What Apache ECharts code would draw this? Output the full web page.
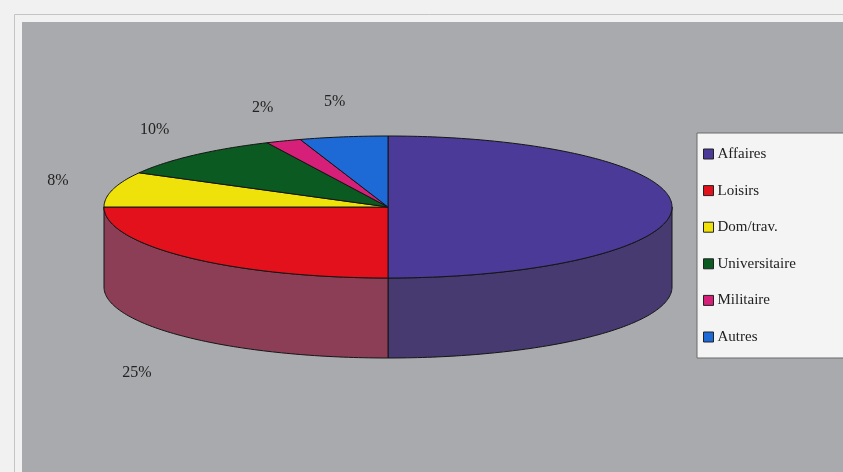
<!DOCTYPE html>
<html>
<head>
<meta charset="utf-8">
<script src="https://cdn.jsdelivr.net/npm/echarts@6/dist/echarts.min.js"></script>
<style>
html,body{margin:0;padding:0;background:#f1f1f1;}
#c{width:843px;height:472px;}
</style>
</head>
<body>
<div id="c"></div>
<script>
const categories = ['Affaires', 'Loisirs', 'Dom/trav.', 'Universitaire', 'Militaire', 'Autres'];
const shares = [50, 25, 8, 10, 2, 5];
const showLabel = [false, true, true, true, true, true];
const topColors = ['#4b3a97', '#e2111b', '#efe10a', '#0b5a22', '#d51f78', '#1d69d6'];
const sideColors = ['#463a70', '#8c3e56', '#9a9020', '#0a3d18', '#8a1a50', '#124a99'];

const CX = 388, CY = 207, RX = 284, RY = 71, DEPTH = 80;
const total = shares.reduce((a, b) => a + b, 0);
const starts = [];
let acc = 0;
shares.forEach(v => { starts.push(acc / total * 360); acc += v; });

function pt(deg, dy) {
  const r = deg * Math.PI / 180;
  return [CX + RX * Math.sin(r), CY - RY * Math.cos(r) + (dy || 0)];
}
function arc(a1, a2, dy) {
  const pts = [];
  const n = Math.max(2, Math.ceil(Math.abs(a2 - a1)));
  for (let i = 0; i <= n; i++) pts.push(pt(a1 + (a2 - a1) * i / n, dy));
  return pts;
}

function makeRender(idx) {
  return function (params, api) {
    const v = api.value(0);
    const a1 = starts[idx];
    const a2 = a1 + v / total * 360;
    const children = [];
    const s1 = Math.max(a1, 90), s2 = Math.min(a2, 270);
    if (s2 > s1) {
      const topArc = arc(s1, s2, 0);
      const botArc = arc(s2, s1, DEPTH);
      children.push({
        type: 'polygon',
        shape: { points: topArc.concat(botArc) },
        style: { fill: sideColors[idx], stroke: '#151515', lineWidth: 1 }
      });
    }
    children.push({
      type: 'polygon',
      shape: { points: [[CX, CY]].concat(arc(a1, a2, 0)) },
      style: { fill: topColors[idx], stroke: '#151515', lineWidth: 1 }
    });
    if (showLabel[idx]) {
      const mid = (a1 + a2) / 2;
      const r = mid * Math.PI / 180;
      const lower = Math.cos(r) < 0;
      const lx = CX + RX * (lower ? 1.25 : 1.2) * Math.sin(r);
      const ly = CY - RY * 1.5 * Math.cos(r) + (lower ? DEPTH + 10 : 0);
      children.push({
        type: 'text',
        x: lx, y: ly,
        style: {
          text: Math.round(v / total * 100) + '%',
          fill: '#222',
          font: '16px "Liberation Serif"',
          align: 'center',
          verticalAlign: 'middle'
        }
      });
    }
    return { type: 'group', children: children };
  };
}

const series = categories.map((name, i) => ({
  type: 'custom',
  name: name,
  coordinateSystem: 'none',
  itemStyle: { color: topColors[i] },
  renderItem: makeRender(i),
  data: [[shares[i]]],
  silent: true,
  animation: false
}));

const chart = echarts.init(document.getElementById('c'), null, { renderer: 'canvas' });
chart.setOption({
  backgroundColor: '#f1f1f1',
  animation: false,
  graphic: [
    { type: 'rect', z: -10, shape: { x: 14.5, y: 14.5, width: 900, height: 600 }, style: { fill: 'none', stroke: '#c4c4c4', lineWidth: 1 } },
    { type: 'rect', z: -9, shape: { x: 22, y: 22, width: 900, height: 600 }, style: { fill: '#a9aaad' } }
  ],
  legend: {
    orient: 'vertical',
    left: 697,
    top: 133,
    data: categories,
    icon: 'rect',
    itemWidth: 10,
    itemHeight: 10,
    itemGap: 20.6,
    padding: [13, 70, 13, 6],
    backgroundColor: '#f4f4f4',
    borderColor: '#6a6a6a',
    borderWidth: 1,
    borderRadius: 0,
    selectedMode: false,
    itemStyle: { borderColor: '#222', borderWidth: 1 },
    textStyle: { fontFamily: 'Liberation Serif', fontSize: 15, color: '#222', lineHeight: 16, padding: [0, 0, 0, -1] }
  },
  series: series
});
</script>
</body>
</html>
